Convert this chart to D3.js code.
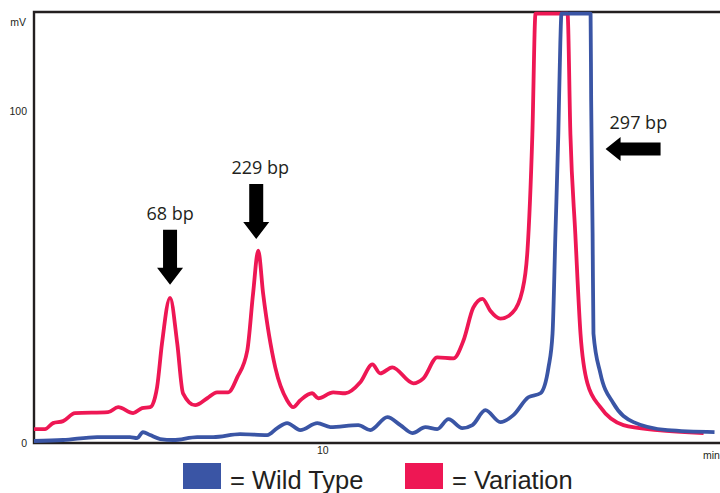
<!DOCTYPE html>
<html>
<head>
<meta charset="utf-8">
<script src="https://cdn.jsdelivr.net/npm/d3@7"></script>
<style>
body { margin: 0; background: #fff; }
svg { display: block; }
text { fill: #231f20; }
</style>
</head>
<body>
<div id="chart"></div>
<script>
// chromatogram values (time in min, signal in mV)
const variationTime = [0, 0.38, 0.66, 1.01, 1.42, 2.57, 2.92, 3.44, 3.75, 4.03, 4.20, 4.27, 4.44, 4.72, 4.97, 5.17, 5.59, 6.01, 6.35, 6.74, 7.05, 7.40, 7.60, 7.78, 7.95, 8.37, 8.78, 8.99, 9.24, 9.65, 9.86, 10.38, 10.80, 11.32, 11.74, 12.01, 12.43, 13.16, 13.51, 13.99, 14.55, 14.90, 15.24, 15.56, 15.83, 16.18, 16.60, 16.94, 17.12, 17.29, 17.40, 18.51, 18.61, 18.78, 18.96, 19.20, 19.65, 20.45, 21.63, 23.23];
const variationMv = [4.2, 4.2, 6.0, 6.6, 9.0, 9.3, 10.8, 9.0, 10.5, 10.8, 13.8, 16.8, 30.0, 43.8, 30.0, 15.0, 11.4, 13.5, 15.3, 15.3, 19.8, 27.9, 45.0, 58.0, 45.0, 22.8, 12.9, 10.8, 12.9, 15.0, 13.5, 15.3, 15.0, 18.3, 23.7, 21.0, 22.8, 18.0, 19.5, 25.8, 25.5, 30.9, 40.8, 43.5, 39.9, 37.5, 39.3, 45.9, 58.0, 93.1, 129.5, 129.5, 93.1, 63.1, 33.0, 18.0, 10.8, 5.4, 3.9, 3.0];

const wildTime = [0, 1.01, 2.19, 3.33, 3.58, 3.78, 4.03, 4.38, 4.83, 5.66, 6.22, 7.15, 8.09, 8.44, 8.78, 9.24, 9.83, 10.28, 11.25, 11.67, 12.26, 12.71, 13.13, 13.58, 13.99, 14.38, 14.86, 15.21, 15.66, 16.18, 16.63, 17.15, 17.57, 17.85, 17.99, 18.09, 18.19, 18.26, 18.30, 19.31, 19.33, 19.38, 19.41, 19.65, 20.10, 20.80, 21.98, 23.61];
const wildMv = [0.6, 0.9, 1.8, 1.8, 1.5, 3.3, 2.4, 1.2, 0.9, 1.8, 1.8, 2.7, 2.4, 4.5, 6.0, 3.9, 6.0, 4.8, 5.4, 3.9, 7.8, 5.4, 3.0, 4.8, 4.2, 7.2, 4.5, 5.4, 9.9, 6.3, 8.4, 13.8, 15.0, 22.8, 33.0, 63.1, 93.1, 120.7, 129.5, 129.5, 103.5, 63.3, 33.0, 21.0, 12.0, 6.3, 3.9, 3.3];

const yTicks = [0, 100];
const xTicks = [10];

// arrow annotations: label, arrow tip (time, mV), direction
const peakLabels = ["68 bp", "229 bp", "297 bp"];
const peakTime = [4.72, 7.71, 19.83];
const peakMv = [47.7, 61.5, 88.7];
const peakDir = ["down", "down", "left"];

const legendNames = ["= Wild Type", "= Variation"];
const RED = "#ee1754", BLUE = "#3a55a5";
const legendColors = [BLUE, RED];

const width = 720, height = 493;
const svg = d3.select("#chart").append("svg")
    .attr("width", width)
    .attr("height", height);

let x = d3.scaleLinear().domain([0, 23.8]).range([34, 720]);
let y = d3.scaleLinear().domain([0, 130]).range([443, 12]);

// frame (left, top, bottom)
svg.append("path")
    .attr("d", `M${x(23.8)},${y(130)}H${x(0)}V${y(0)}H${x(23.8)}`)
    .attr("fill", "none")
    .attr("stroke", "#231f20")
    .attr("stroke-width", 2.4);

// axes labels only
let yAxis = svg.append("g")
    .attr("transform", `translate(${x(0)},0)`)
    .call(d3.axisLeft(y).tickValues(yTicks).tickSize(0).tickPadding(7));
yAxis.select(".domain").remove();
yAxis.selectAll("text")
    .attr("font-family", "Liberation Sans, Arial, sans-serif")
    .attr("font-size", 10.5)
    .attr("fill", "#231f20");

let xAxis = svg.append("g")
    .attr("transform", `translate(0,${y(0)})`)
    .call(d3.axisBottom(x).tickValues(xTicks).tickSize(0).tickPadding(4));
xAxis.select(".domain").remove();
xAxis.selectAll("text")
    .attr("font-family", "Liberation Sans, Arial, sans-serif")
    .attr("font-size", 10.5)
    .attr("fill", "#231f20");

svg.append("text")
    .attr("x", 26).attr("y", 26)
    .attr("text-anchor", "end")
    .attr("font-family", "Liberation Sans, Arial, sans-serif")
    .attr("font-size", 10.5)
    .text("mV");

svg.append("text")
    .attr("x", 703).attr("y", 459)
    .attr("font-family", "Liberation Sans, Arial, sans-serif")
    .attr("font-size", 10.5)
    .text("min");

// curves
let line = d3.line()
    .x(d => x(d[0]))
    .y(d => y(d[1]))
    .curve(d3.curveMonotoneX);

let variation = variationTime.map((t, i) => [t, variationMv[i]]);
let wild = wildTime.map((t, i) => [t, wildMv[i]]);

svg.append("path")
    .datum(variation)
    .attr("d", line)
    .attr("fill", "none")
    .attr("stroke", RED)
    .attr("stroke-width", 3.8)
    .attr("stroke-linejoin", "round");

svg.append("path")
    .datum(wild)
    .attr("d", line)
    .attr("fill", "none")
    .attr("stroke", BLUE)
    .attr("stroke-width", 3.8)
    .attr("stroke-linejoin", "round");

// arrows + labels
let arrowPath = function(tx, ty, dir) {
    if (dir == "down") {
        return `M${tx-7},${ty-55}H${tx+7}V${ty-17}H${tx+13}L${tx},${ty}L${tx-13},${ty-17}H${tx-7}Z`;
    }
    return `M${tx+55},${ty-6.5}V${ty+6.5}H${tx+15}V${ty+12}L${tx},${ty}L${tx+15},${ty-12}V${ty-6.5}Z`;
}

peakLabels.forEach((label, i) => {
    let tx = x(peakTime[i]), ty = y(peakMv[i]);
    svg.append("path")
        .attr("d", arrowPath(tx, ty, peakDir[i]))
        .attr("fill", "#000");
    let t = svg.append("text")
        .attr("font-family", "Open Sans, sans-serif")
        .attr("font-size", 18)
        .text(label);
    if (peakDir[i] == "down") {
        t.attr("x", tx + (i == 1 ? 4 : 0)).attr("y", ty - 65).attr("text-anchor", "middle");
    } else {
        t.attr("x", tx + 4).attr("y", ty - 20);
    }
});

// legend
let legend = svg.append("g");
let legendX = [183, 405];
legendNames.forEach((name, i) => {
    legend.append("rect")
        .attr("x", legendX[i]).attr("y", 463)
        .attr("width", 38).attr("height", 26)
        .attr("fill", legendColors[i]);
    legend.append("text")
        .attr("x", legendX[i] + 47).attr("y", 489)
        .attr("font-family", "Liberation Sans, Arial, sans-serif")
        .attr("font-size", 25.5)
        .text(name);
});
</script>
</body>
</html>
